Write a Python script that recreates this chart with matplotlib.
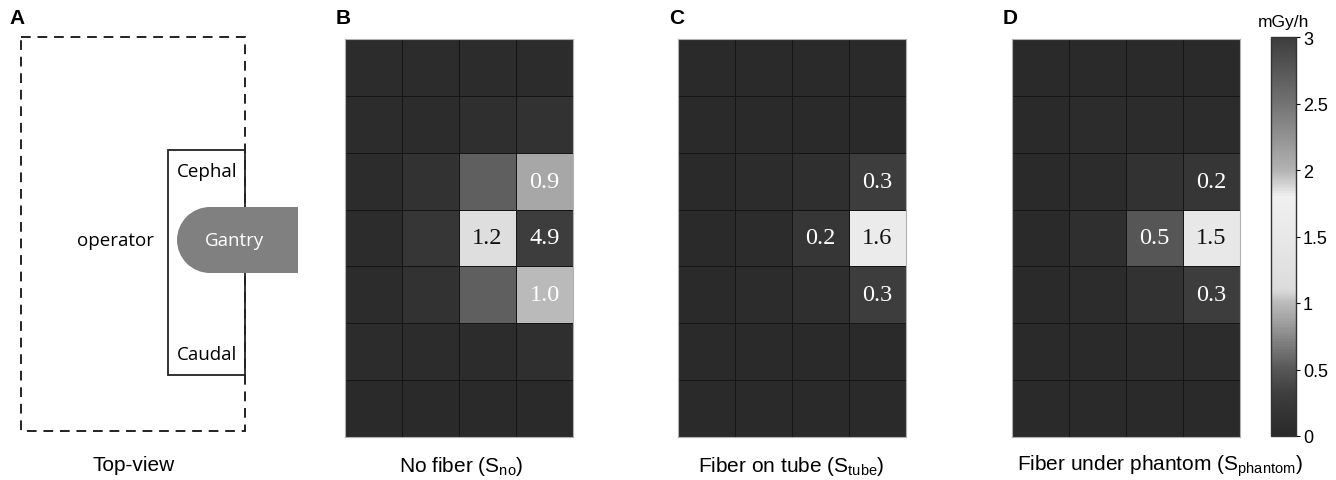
import numpy as np
import matplotlib
matplotlib.use('Agg')
import matplotlib.pyplot as plt
from matplotlib.colors import LinearSegmentedColormap
from matplotlib.patches import Rectangle, Wedge

plt.rcParams['font.family'] = ['Liberation Sans', 'DejaVu Sans']
plt.rcParams['mathtext.fontset'] = 'custom'
plt.rcParams['mathtext.rm'] = 'Liberation Sans'

# dose rate maps, 7 rows x 4 columns (top row first), mGy/h
s_no = [[0.05, 0.05, 0.05, 0.05],
        [0.05, 0.05, 0.1, 0.15],
        [0.05, 0.15, 0.55, 0.9],
        [0.05, 0.2, 1.2, 4.9],
        [0.05, 0.15, 0.55, 1.0],
        [0.05, 0.05, 0.05, 0.1],
        [0.02, 0.02, 0.02, 0.02]]
s_tube = [[0.02, 0.02, 0.02, 0.02],
          [0.02, 0.02, 0.02, 0.02],
          [0.02, 0.05, 0.1, 0.3],
          [0.02, 0.05, 0.2, 1.6],
          [0.02, 0.05, 0.1, 0.3],
          [0.02, 0.02, 0.02, 0.02],
          [0.02, 0.02, 0.02, 0.02]]
s_phantom = [[0.02, 0.02, 0.02, 0.02],
             [0.02, 0.05, 0.05, 0.05],
             [0.02, 0.05, 0.15, 0.2],
             [0.02, 0.1, 0.5, 1.5],
             [0.02, 0.05, 0.15, 0.3],
             [0.02, 0.02, 0.05, 0.05],
             [0.02, 0.02, 0.02, 0.02]]
# which cells carry a printed value
labeled = {'B': [(2, 3), (3, 2), (3, 3), (4, 3)],
           'C': [(2, 3), (3, 2), (3, 3), (4, 3)],
           'D': [(2, 3), (3, 2), (3, 3), (4, 3)]}
captions = [r'No fiber (S$_{\mathrm{no}}$)',
            r'Fiber on tube (S$_{\mathrm{tube}}$)',
            r'Fiber under phantom (S$_{\mathrm{phantom}}$)']

# grey colormap (value, grey level)
cb_vals = [0.0, 0.3, 0.5, 0.9, 1.0, 1.1, 1.5, 1.8, 2.0, 2.5, 3.0]
cb_grey = [0.16, 0.24, 0.34, 0.66, 0.73, 0.86, 0.91, 0.94, 0.70, 0.45, 0.24]
cmap = LinearSegmentedColormap.from_list(
    'dose', [(v / 3.0, (g, g, g)) for v, g in zip(cb_vals, cb_grey)])

W, H = 1336, 481
fig = plt.figure(figsize=(W / 100, H / 100), dpi=100)

def px_axes(x0, y0, x1, y1):
    return fig.add_axes([x0 / W, 1 - y1 / H, (x1 - x0) / W, (y1 - y0) / H])

# ---- panel A: schematic top view
axa = fig.add_axes([0, 0, 320 / W, 1])
axa.set_xlim(0, 320)
axa.set_ylim(H, 0)
axa.axis('off')
axa.add_patch(Rectangle((21, 38), 224, 394, fill=False, ec='#222222',
                        lw=1.4, ls=(0, (5, 3.5))))
axa.add_patch(Rectangle((168, 151), 77, 225, fill=False, ec='#222222', lw=1.3))
axa.add_patch(Wedge((210, 241), 33, 90, 270, fc='#808080', ec='none'))
axa.add_patch(Rectangle((210, 208), 88, 66, fc='#808080', ec='none'))
fa = ['Open Sans', 'DejaVu Sans']
axa.text(207, 172, 'Cephal', ha='center', va='center', fontsize=13.5, family=fa)
axa.text(207, 355, 'Caudal', ha='center', va='center', fontsize=13.5, family=fa)
axa.text(116, 241, 'operator', ha='center', va='center', fontsize=13.5, family=fa)
axa.text(234, 241, 'Gantry', ha='center', va='center', fontsize=13.5,
         family=fa, color='white')
axa.text(134, 466, 'Top-view', ha='center', va='center', fontsize=15)

# ---- panels B-D: heat maps
lefts = [345, 678, 1012]
cap_x = [461, 791, 1160]
maps = [s_no, s_tube, s_phantom]
keys = ['B', 'C', 'D']
for left, cx, data, key, cap in zip(lefts, cap_x, maps, keys, captions):
    ax = px_axes(left, 40, left + 228, 438)
    arr = np.array(data)
    ax.pcolormesh(arr, cmap=cmap, vmin=0, vmax=3, edgecolors='#151515',
                  linewidth=0.6)
    ax.set_ylim(arr.shape[0], 0)
    ax.set_xticks([])
    ax.set_yticks([])
    for sp in ax.spines.values():
        sp.set_color('#b0b0b0')
        sp.set_linewidth(0.8)
    for r, c in labeled[key]:
        v = arr[r, c]
        tc = '#111111' if 1.1 <= v <= 2.2 else 'white'
        ax.text(c + 0.5, r + 0.5, f'{v:.1f}', ha='center', va='center',
                fontsize=17.5, color=tc, family=['Liberation Serif'])
    fig.text(cx / W, 1 - 466 / H, cap, ha='center', va='center', fontsize=15)

# panel letters
for lab, x in zip(['A', 'B', 'C', 'D'], [9, 336, 669, 1003]):
    fig.text(x / W, 1 - 18 / H, lab, fontsize=15, fontweight='bold',
             ha='left', va='center')

# ---- colour bar
cax = px_axes(1271, 38, 1296, 437)
sm = plt.cm.ScalarMappable(cmap=cmap, norm=plt.Normalize(0, 3))
cb = fig.colorbar(sm, cax=cax, ticks=[0, 0.5, 1, 1.5, 2, 2.5, 3])
cb.ax.set_yticklabels(['0', '0.5', '1', '1.5', '2', '2.5', '3'])
cb.ax.tick_params(labelsize=13, length=3, width=0.8, pad=2)
cb.outline.set_edgecolor('#333333')
cb.outline.set_linewidth(1.0)
fig.text(1283 / W, 1 - 22 / H, 'mGy/h', ha='center', va='center', fontsize=12.5)

fig.savefig('out.png', dpi=100)
